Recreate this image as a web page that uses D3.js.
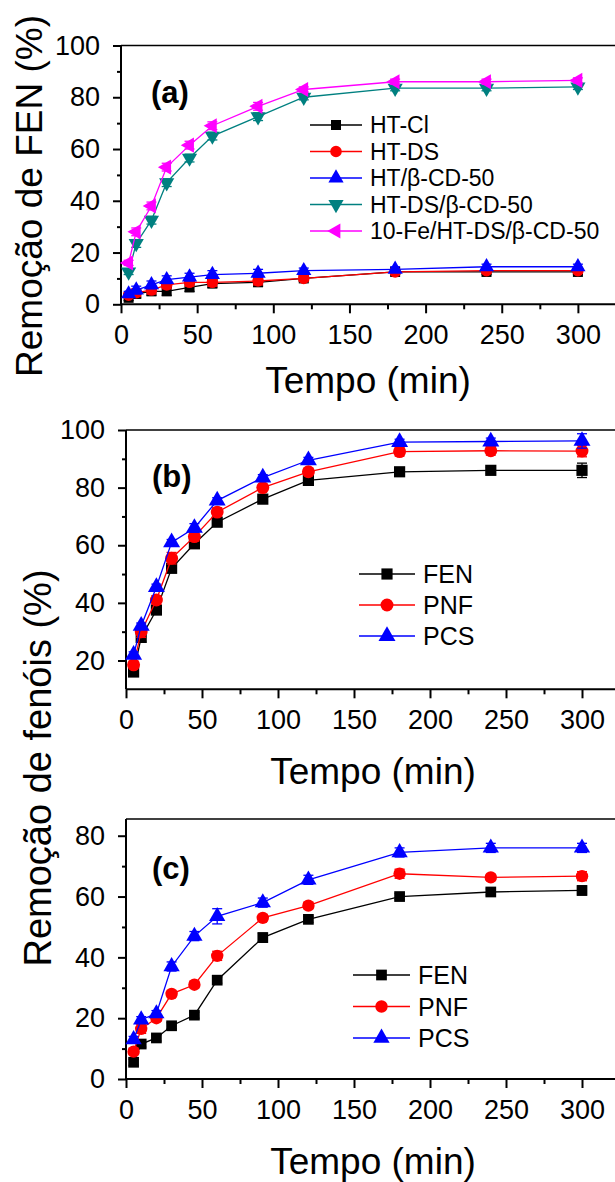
<!DOCTYPE html>
<html>
<head>
<meta charset="utf-8">
<script src="https://cdn.jsdelivr.net/npm/d3@7"></script>
<style>
  body { margin: 0; background: #fff; }
  svg { display: block; font-family: "Liberation Sans", Arial, sans-serif; }
  .axis path.domain { display: none; }
  .axis line { stroke: #000; stroke-width: 2; }
  .axis text { font-size: 27px; fill: #000; }
</style>
</head>
<body>
<svg id="viz" width="615" height="1182"></svg>
<script>
// time points (min), same for every series
var tempo = [5, 10, 20, 30, 45, 60, 90, 120, 180, 240, 300];

// panel (a) - FEN removal per material
var htCl      = [2.5, 4, 5, 5, 6.5, 8, 8.5, 10, 12.5, 12.5, 12.5];
var htDs      = [3.5, 4.5, 5.5, 7.5, 8.5, 8.5, 9, 10, 12.5, 13, 13];
var htCd50    = [4, 5.5, 7.5, 9.5, 10.5, 11.5, 12, 13, 13.5, 14.5, 14.5];
var htDsCd50  = [12.5, 23.5, 32.5, 47, 56.5, 65, 72.5, 80, 83.5, 83.5, 84];
var feHtDsCd  = [16, 28, 38, 53, 61.5, 69, 76.5, 83, 86, 86, 86.5];
var errA      = [1, 1.5, 1.5, 1.5, 1.5, 1.5, 1.5, 1, 1, 1, 1];

// panel (b)
var fenB = [16, 28, 37.5, 52, 60.5, 68, 76, 82.5, 85.5, 86, 86];
var pnfB = [18.5, 30, 41, 55.5, 63, 71.5, 80, 85.5, 92.5, 92.8, 92.7];
var pcsB = [22, 32, 45.5, 61, 66, 75.5, 83.5, 89.5, 95.8, 96, 96.2];
var errFenB = [1, 1.5, 1, 1.5, 1, 1, 1, 1, 1, 1, 2.5];
var errPnfB = [1, 2, 1.5, 2, 1.5, 1.5, 1, 1, 1.5, 1.5, 2];
var errPcsB = [1, 1, 1, 1, 1.5, 1, 1, 1, 1, 1.2, 2.5];

// panel (c)
var fenC = [5.5, 11.5, 13.5, 17.5, 21, 32.5, 46.5, 52.5, 60, 61.5, 62];
var pnfC = [9, 16.5, 20, 28, 31, 40.5, 53, 57, 67.5, 66.3, 66.7];
var pcsC = [13, 19.5, 21.5, 37, 47, 53.5, 58, 65.5, 74.5, 76, 76];
var errFenC = [1, 1, 1, 1, 1, 1, 1.5, 1, 1, 1, 1.5];
var errPnfC = [1, 1.5, 1, 1, 1, 1.5, 1, 1, 1.5, 1, 1.5];
var errPcsC = [1, 1, 1, 1.5, 1.5, 2.5, 1.5, 1.5, 1.5, 1.5, 1.5];

var svg = d3.select("#viz");
svg.append("rect").attr("width", 615).attr("height", 1182).attr("fill", "#fff");

// marker shapes
var SQ = { type: d3.symbolSquare, rot: 0, size: 100 },
    CI = { type: d3.symbolCircle, rot: 0, size: 105 },
    UP = { type: d3.symbolTriangle, rot: 0, size: 100 },
    DN = { type: d3.symbolTriangle, rot: 180, size: 100 },
    LT = { type: d3.symbolTriangle, rot: -90, size: 100 };

function drawPanel(p) {
    var x = d3.scaleLinear().domain([0, 330]).range([p.x0, p.x0 + 330 * p.kx]);
    var y = d3.scaleLinear().domain(p.yDom).range([p.yBot, p.yTop]);
    var g = svg.append("g");

    // minor ticks
    g.append("g").attr("class", "axis")
        .attr("transform", "translate(0," + p.yBot + ")")
        .call(d3.axisBottom(x).tickValues([25, 75, 125, 175, 225, 275, 325]).tickSize(5).tickFormat(""));
    g.append("g").attr("class", "axis")
        .attr("transform", "translate(" + p.x0 + ",0)")
        .call(d3.axisLeft(y).tickValues(p.yMinor).tickSize(4).tickFormat(""));
    // major ticks
    g.append("g").attr("class", "axis")
        .attr("transform", "translate(0," + p.yBot + ")")
        .call(d3.axisBottom(x).tickValues([0, 50, 100, 150, 200, 250, 300]).tickSize(9).tickPadding(12));
    g.append("g").attr("class", "axis")
        .attr("transform", "translate(" + p.x0 + ",0)")
        .call(d3.axisLeft(y).tickValues(p.yMajor).tickSize(8).tickPadding(13));

    // frame
    g.append("line").attr("x1", p.x0).attr("x2", 640).attr("y1", p.yBot).attr("y2", p.yBot)
        .attr("stroke", "#000").attr("stroke-width", 2);
    g.append("line").attr("x1", p.x0).attr("x2", 640).attr("y1", p.yTop).attr("y2", p.yTop)
        .attr("stroke", "#000").attr("stroke-width", 1.5);
    g.append("line").attr("x1", p.x0).attr("x2", p.x0).attr("y1", p.yTop).attr("y2", p.yBot)
        .attr("stroke", "#000").attr("stroke-width", 2);

    var line = d3.line().x(function (d) { return x(d[0]); }).y(function (d) { return y(d[1]); });

    p.series.forEach(function (s) {
        var pts = tempo.map(function (t, i) { return [t, s.values[i], s.err[i]]; });
        g.append("path").datum(pts).attr("d", line)
            .attr("fill", "none").attr("stroke", s.color).attr("stroke-width", 1.3);
        // error bars
        var eb = g.append("g").attr("stroke", s.color).attr("stroke-width", 1.3);
        pts.forEach(function (d) {
            var cx = x(d[0]);
            eb.append("line").attr("x1", cx).attr("x2", cx).attr("y1", y(d[1] - d[2])).attr("y2", y(d[1] + d[2]));
            eb.append("line").attr("x1", cx - 5).attr("x2", cx + 5).attr("y1", y(d[1] - d[2])).attr("y2", y(d[1] - d[2]));
            eb.append("line").attr("x1", cx - 5).attr("x2", cx + 5).attr("y1", y(d[1] + d[2])).attr("y2", y(d[1] + d[2]));
        });
        g.append("g").selectAll("path").data(pts).enter().append("path")
            .attr("d", d3.symbol().type(s.m.type).size(s.m.size * p.ms))
            .attr("transform", function (d) { return "translate(" + x(d[0]) + "," + y(d[1]) + ") rotate(" + s.m.rot + ")"; })
            .attr("fill", s.color);
    });

    // legend
    var lg = g.append("g");
    p.series.forEach(function (s, i) {
        var ly = p.leg.y + i * p.leg.dy;
        lg.append("line").attr("x1", p.leg.x).attr("x2", p.leg.x + p.leg.w).attr("y1", ly).attr("y2", ly)
            .attr("stroke", s.color).attr("stroke-width", 1.3);
        lg.append("path").attr("d", d3.symbol().type(s.m.type).size(s.m.size * p.ms))
            .attr("transform", "translate(" + (p.leg.x + p.leg.w / 2) + "," + ly + ") rotate(" + s.m.rot + ")")
            .attr("fill", s.color);
        lg.append("text").attr("x", p.leg.x + p.leg.w + 8).attr("y", ly).attr("dy", "0.36em")
            .attr("font-size", p.leg.fs).text(s.name);
    });

    // panel tag
    g.append("text").attr("x", p.tag.x).attr("y", p.tag.y).attr("font-size", 31)
        .attr("font-weight", "bold").text(p.tag.text);

    // x title
    g.append("text").attr("x", p.xt.x).attr("y", p.xt.y).attr("text-anchor", "middle")
        .attr("font-size", 37).text("Tempo (min)");
}

drawPanel({
    x0: 121, kx: 1.523, yDom: [0, 100], yBot: 304.3, yTop: 45.5,
    yMajor: [0, 20, 40, 60, 80, 100], yMinor: [10, 30, 50, 70, 90], ms: 1.0,
    series: [
        { name: "HT-Cl", values: htCl, err: errA, color: "#000000", m: SQ },
        { name: "HT-DS", values: htDs, err: errA, color: "#ff0000", m: CI },
        { name: "HT/\u03b2-CD-50", values: htCd50, err: errA, color: "#0000ff", m: UP },
        { name: "HT-DS/\u03b2-CD-50", values: htDsCd50, err: errA, color: "#008080", m: DN },
        { name: "10-Fe/HT-DS/\u03b2-CD-50", values: feHtDsCd, err: errA, color: "#ff00ff", m: LT }
    ],
    leg: { x: 310, w: 52, y: 125, dy: 26.5, fs: 23 },
    tag: { x: 151, y: 103, text: "(a)" },
    xt: { x: 368, y: 393 }
});

drawPanel({
    x0: 126, kx: 1.52, yDom: [10, 100], yBot: 689.3, yTop: 430,
    yMajor: [20, 40, 60, 80, 100], yMinor: [30, 50, 70, 90], ms: 1.25,
    series: [
        { name: "FEN", values: fenB, err: errFenB, color: "#000000", m: SQ },
        { name: "PNF", values: pnfB, err: errPnfB, color: "#ff0000", m: CI },
        { name: "PCS", values: pcsB, err: errPcsB, color: "#0000ff", m: UP }
    ],
    leg: { x: 359, w: 56, y: 574, dy: 31, fs: 25 },
    tag: { x: 152, y: 487, text: "(b)" },
    xt: { x: 373, y: 784 }
});

drawPanel({
    x0: 126, kx: 1.52, yDom: [0, 85.5], yBot: 1079, yTop: 819,
    yMajor: [0, 20, 40, 60, 80], yMinor: [10, 30, 50, 70], ms: 1.15,
    series: [
        { name: "FEN", values: fenC, err: errFenC, color: "#000000", m: SQ },
        { name: "PNF", values: pnfC, err: errPnfC, color: "#ff0000", m: CI },
        { name: "PCS", values: pcsC, err: errPcsC, color: "#0000ff", m: UP }
    ],
    leg: { x: 353, w: 57, y: 975, dy: 31.5, fs: 25 },
    tag: { x: 152, y: 879, text: "(c)" },
    xt: { x: 373, y: 1174 }
});

// y titles
svg.append("text").attr("transform", "translate(42,196) rotate(-90)")
    .attr("text-anchor", "middle").attr("font-size", 37).text("Remo\u00e7\u00e3o de FEN (%)");
svg.append("text").attr("transform", "translate(51,768) rotate(-90)")
    .attr("text-anchor", "middle").attr("font-size", 38).text("Remo\u00e7\u00e3o de fen\u00f3is (%)");
</script>
</body>
</html>
